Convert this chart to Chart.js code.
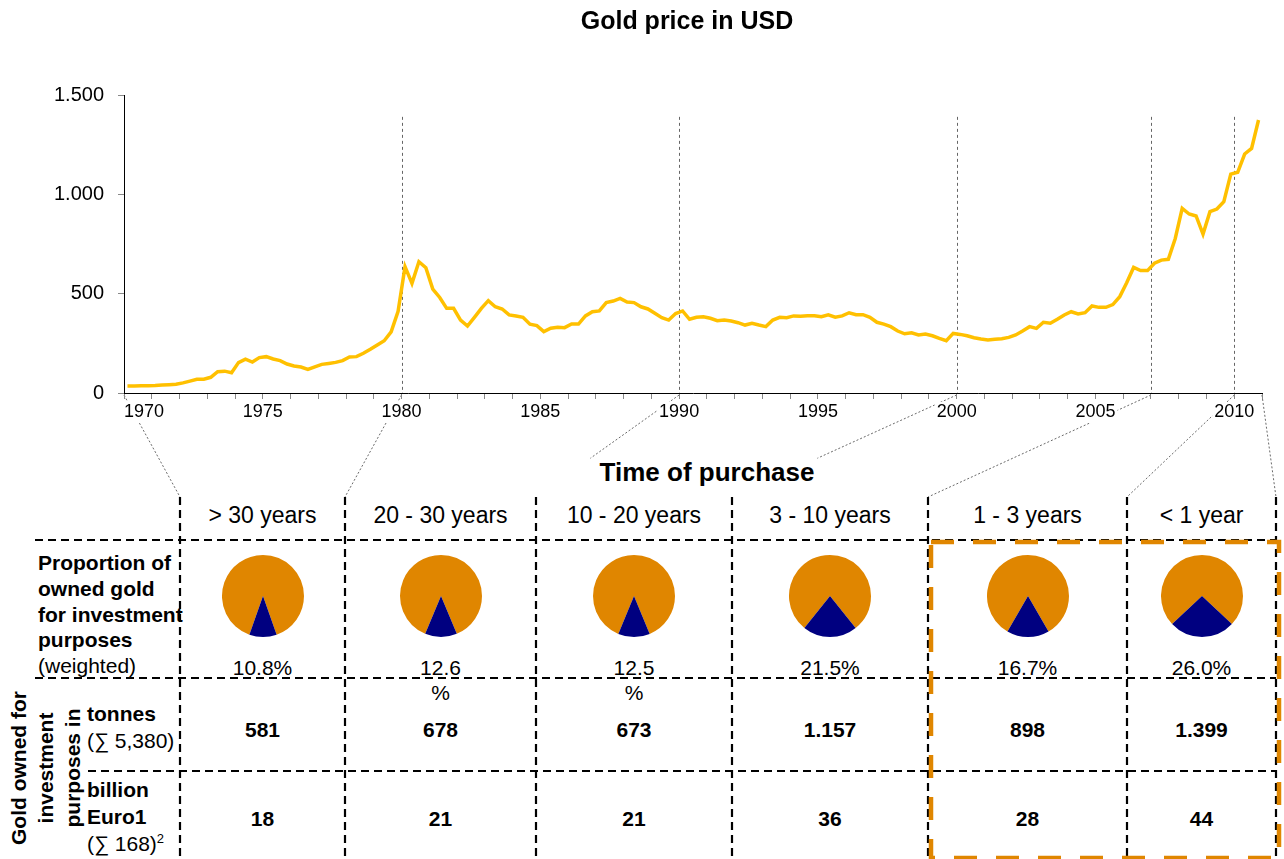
<!DOCTYPE html>
<html>
<head>
<meta charset="utf-8">
<title>Gold price in USD</title>
<script src="https://cdn.jsdelivr.net/npm/chart.js@4.4.0/dist/chart.umd.min.js"></script>
<style>
  html, body { margin: 0; padding: 0; background: #fff; }
  body {
    width: 1284px; height: 859px; position: relative; overflow: hidden;
    font-family: "Liberation Sans", Arial, sans-serif; color: #000;
  }
  #overlay { position: absolute; left: 0; top: 0; z-index: 1; }
  #priceChart { position: absolute; left: 0; top: 0; z-index: 2; }
  .pie { position: absolute; z-index: 2; }
  .txt { position: absolute; z-index: 3; white-space: nowrap; }
  .c { transform: translate(-50%, -50%); text-align: center; }
  .b { font-weight: bold; }
  #title { left: 687px; top: 20px; font-size: 25px; }
  #purchase { left: 707px; top: 472px; font-size: 26px; }
  .head { font-size: 23px; }
  .pct { font-size: 21px; line-height: 25px; transform: translateX(-50%); text-align: center; white-space: pre; }
  .val { font-size: 21px; }
  .rowlbl { left: 38px; font-size: 21px; line-height: 25.8px; }
  .sublbl { left: 87px; font-size: 21px; line-height: 27px; }
  #vertLbl { left: 45px; top: 768px; font-size: 21px; line-height: 27px;
             transform: translate(-50%, -50%) rotate(-90deg); text-align: center; }
  sup { font-size: 13px; vertical-align: 8px; line-height: 0; }
</style>
</head>
<body>
<svg id="overlay" width="1284" height="859"></svg>
<canvas id="priceChart" width="1284" height="430"></canvas>
<div id="title" class="txt c b">Gold price in USD</div>
<div id="purchase" class="txt c b">Time of purchase</div>

<script>
// quarterly gold price in USD, 1970 Q1 .. 2010 Q4
const firstYear = 1970;
const goldPrice = [
  35, 35, 36, 37,        // 1970
  38, 40, 42, 44,        // 1971
  51, 60, 69, 69,        // 1972
  79, 107, 110, 102,     // 1973
  153, 170, 156, 178,    // 1974
  183, 171, 163, 146,    // 1975
  136, 131, 119, 132,    // 1976
  144, 149, 154, 163,    // 1977
  181, 183, 200, 220,    // 1978
  242, 263, 308, 411,    // 1979
  636, 552, 661, 631,    // 1980
  523, 481, 426, 426,    // 1981
  367, 337, 381, 426,    // 1982
  465, 434, 423, 393,    // 1983
  388, 381, 346, 339,    // 1984
  309, 326, 331, 329,    // 1985
  347, 347, 388, 409,    // 1986
  413, 455, 463, 476,    // 1987
  458, 455, 434, 423,    // 1988
  401, 379, 367, 400,    // 1989
  413, 371, 381, 384,    // 1990
  376, 364, 367, 362,    // 1991
  354, 342, 351, 342,    // 1992
  334, 367, 381, 379,    // 1993
  388, 386, 389, 389,    // 1994
  384, 393, 382, 388,    // 1995
  404, 394, 394, 381,    // 1996
  356, 347, 334, 312,    // 1997
  298, 303, 292, 297,    // 1998
  288, 275, 263, 300,    // 1999
  295, 288, 278, 272,    // 2000
  267, 271, 273, 280,    // 2001
  292, 312, 334, 325,    // 2002
  356, 351, 371, 393,    // 2003
  409, 398, 404, 438,    // 2004
  431, 431, 445, 485,    // 2005
  555, 632, 616, 616,    // 2006
  653, 669, 673, 778,    // 2007
  929, 901, 891, 800,    // 2008
  913, 926, 963, 1102,   // 2009
  1111, 1203, 1231, 1374 // 2010
];
const yTicks = [0, 500, 1000, 1500];

// purchase periods and what is held from each
const periods = ['> 30 years', '20 - 30 years', '10 - 20 years', '3 - 10 years', '1 - 3 years', '< 1 year'];
const periodBounds = [1970, 1980, 1990, 2000, 2007, 2010, 2011];
const investShare = [10.8, 12.6, 12.5, 21.5, 16.7, 26.0];
const tonnes = [581, 678, 673, 1157, 898, 1399];
const billionEuro = [18, 21, 21, 36, 28, 44];

// table geometry
const colX = [180, 345, 536, 732, 928, 1127, 1276];
const headTop = 497, headMid = 515, rowY = [540, 678, 771], tableBottom = 859;
const pieY = 596, pieR = 41;
const pctY = 667, tonY = 730, eurY = 819;
const pctWrap = [false, true, true, false, false, false];
const connectorReach = [1, 1, 0.62, 0.62, 1, 1, 1];

const ORANGE = '#E08600';
const NAVY = '#000080';
const GOLD = '#FFC000';

const fmt = v => String(v).replace(/\B(?=(\d{3})+(?!\d))/g, '.');

const labelYears = v => v % 5 === 0 && v <= 2010;

const chartDecor = {
  id: 'chartDecor',
  beforeDraw(chart) {
    // white patches under the year labels so the connectors run behind them
    const { ctx, scales: { x }, chartArea } = chart;
    ctx.save();
    ctx.fillStyle = '#fff';
    x.ticks.forEach((t, i) => {
      if (labelYears(t.value)) {
        const px = x.getPixelForValue(t.value) + (i === 0 ? 20 : 0);
        ctx.fillRect(px - 22, chartArea.bottom + 9, 44, 21);
      }
    });
    ctx.restore();
  },
  beforeDatasetsDraw(chart) {
    const { ctx, scales: { x, y } } = chart;
    ctx.save();
    ctx.strokeStyle = '#666';
    ctx.lineWidth = 1;
    ctx.setLineDash([3, 3]);
    periodBounds.slice(1, -1).forEach(yr => {
      const px = Math.round(x.getPixelForValue(yr)) + 0.5;
      ctx.beginPath();
      ctx.moveTo(px, y.getPixelForValue(1390));
      ctx.lineTo(px, y.getPixelForValue(0));
      ctx.stroke();
    });
    ctx.restore();
  }
};

const priceChart = new Chart(document.getElementById('priceChart'), {
  type: 'line',
  data: {
    datasets: [{
      data: goldPrice.map((v, i) => ({ x: firstYear + (i + 0.5) / 4, y: v })),
      borderColor: GOLD,
      borderWidth: 3.5,
      pointRadius: 0,
      tension: 0,
      fill: false
    }]
  },
  options: {
    responsive: false,
    animation: false,
    events: [],
    layout: { padding: { top: 95, right: 22, left: 0, bottom: 0 } },
    plugins: { legend: { display: false }, tooltip: { enabled: false } },
    scales: {
      x: {
        type: 'linear',
        min: periodBounds[0],
        max: periodBounds[periodBounds.length - 1],
        afterFit: s => { s.height = 37; },
        grid: { drawOnChartArea: false, drawTicks: true, tickLength: 6, color: '#888' },
        border: { color: '#000', width: 1 },
        ticks: {
          stepSize: 1,
          autoSkip: false,
          maxRotation: 0,
          align: 'inner',
          padding: 2,
          color: '#000',
          font: { family: 'Liberation Sans', size: 18 },
          callback: v => (labelYears(v) ? String(v) : '')
        }
      },
      y: {
        min: yTicks[0],
        max: yTicks[yTicks.length - 1],
        afterFit: s => { s.width = 124; },
        afterBuildTicks: s => { s.ticks = yTicks.map(v => ({ value: v })); },
        grid: { drawOnChartArea: false, drawTicks: true, tickLength: 6, color: '#888' },
        border: { color: '#000', width: 1 },
        ticks: {
          padding: 14,
          color: '#000',
          font: { family: 'Liberation Sans', size: 20 },
          callback: v => fmt(v)
        }
      }
    }
  },
  plugins: [chartDecor]
});

// ---- table lines and connectors ----
const svg = document.getElementById('overlay');
const NS = 'http://www.w3.org/2000/svg';
function line(x1, y1, x2, y2, stroke, width, dash) {
  const l = document.createElementNS(NS, 'line');
  l.setAttribute('x1', x1); l.setAttribute('y1', y1);
  l.setAttribute('x2', x2); l.setAttribute('y2', y2);
  l.setAttribute('stroke', stroke);
  l.setAttribute('stroke-width', width);
  if (dash) l.setAttribute('stroke-dasharray', dash);
  svg.appendChild(l);
}

const xs = priceChart.scales.x;
const axisY = priceChart.chartArea.bottom;
periodBounds.forEach((yr, i) => {
  const x0 = xs.getPixelForValue(yr), y0 = axisY + 2;
  const f = connectorReach[i];
  line(x0, y0, x0 + (colX[i] - x0) * f, y0 + (headTop - y0) * f, '#444', 0.8, '2 2');
});

colX.forEach(x => line(x, headTop, x, tableBottom, '#000', 2.2, '8 5'));
line(35, rowY[0], colX[6], rowY[0], '#000', 2.2, '8 5');
line(35, rowY[1], colX[6], rowY[1], '#000', 2.2, '8 5');
line(88, rowY[2], colX[6], rowY[2], '#000', 2.2, '8 5');

// recent purchases (last two periods) outlined in orange
const hl = document.createElementNS(NS, 'rect');
hl.setAttribute('x', colX[4] + 3); hl.setAttribute('y', rowY[0] + 2);
hl.setAttribute('width', colX[6] - colX[4]); hl.setAttribute('height', tableBottom - rowY[0] - 3);
hl.setAttribute('fill', 'none'); hl.setAttribute('stroke', ORANGE);
hl.setAttribute('stroke-width', 4.5); hl.setAttribute('stroke-dasharray', '23 19');
svg.appendChild(hl);

// ---- table text ----
function text(html, cls, left, top) {
  const d = document.createElement('div');
  d.className = 'txt ' + cls;
  d.innerHTML = html;
  d.style.left = left + 'px';
  d.style.top = top + 'px';
  document.body.appendChild(d);
  return d;
}

text('<b>Proportion of<br>owned gold<br>for investment<br>purposes</b><br>(weighted)', 'rowlbl', 38, 550);
text('<b>tonnes</b><br>(&sum; 5,380)', 'sublbl', 87, 700);
text('<b>billion<br>Euro1</b><br>(&sum; 168)<sup>2</sup>', 'sublbl', 87, 776);
const v = document.createElement('div');
v.id = 'vertLbl'; v.className = 'txt b';
v.innerHTML = 'Gold owned for<br>investment<br>purposes in';
document.body.appendChild(v);

periods.forEach((p, i) => {
  const cx = (colX[i] + colX[i + 1]) / 2;
  text(p, 'c head', cx, headMid);

  const pctTxt = investShare[i].toFixed(1) + (pctWrap[i] ? '\n%' : '%');
  text(pctTxt, 'pct', cx, pctY - 12.5);
  text(fmt(tonnes[i]), 'c b val', cx, tonY);
  text(fmt(billionEuro[i]), 'c b val', cx, eurY);

  const cv = document.createElement('canvas');
  cv.className = 'pie';
  cv.width = pieR * 2; cv.height = pieR * 2;
  cv.style.left = (cx - pieR) + 'px';
  cv.style.top = (pieY - pieR) + 'px';
  document.body.appendChild(cv);
  const share = investShare[i] / 100;
  new Chart(cv, {
    type: 'pie',
    data: {
      datasets: [{
        data: [100 - investShare[i], investShare[i]],
        backgroundColor: [ORANGE, NAVY],
        borderWidth: 0
      }]
    },
    options: {
      responsive: false,
      animation: false,
      events: [],
      rotation: 180 * share - 180,
      plugins: { legend: { display: false }, tooltip: { enabled: false } }
    }
  });
});
</script>
</body>
</html>
